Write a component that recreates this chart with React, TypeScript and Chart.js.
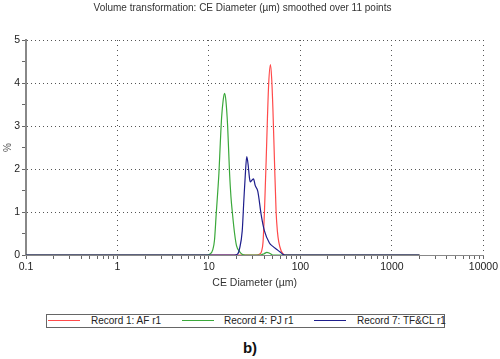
import React, { useEffect, useRef } from 'react';
import { Chart, registerables } from 'chart.js';

Chart.register(...registerables);

const TITLE = 'Volume transformation: CE Diameter (µm) smoothed over 11 points';
const X_TITLE = 'CE Diameter (µm)';
const Y_TITLE = '%';
const X_DECADES = [0.1, 1, 10, 100, 1000, 10000];
const Y_MIN = 0;
const Y_MAX = 5;
const Y_STEP = 0.5;

const SERIES_LABELS = ['Record 1: AF r1', 'Record 4: PJ r1', 'Record 7: TF&CL r1'];
const SERIES_COLORS = ['#ff4a4a', '#3aa83a', '#1e1e8c'];

const afSizes = [0.1, 1, 10, 33, 35.7, 37.5, 39, 40.4, 41.3, 42.2, 43.6, 45, 47, 48.5, 50, 52, 54.2, 56, 58, 61.5, 64, 67, 100, 1000, 2000];
const afValues = [0, 0, 0, 0, 0.02, 0.08, 0.3, 1.0, 1.6, 2.2, 3.2, 4.0, 4.43, 4.1, 3.4, 2.2, 1.0, 0.55, 0.3, 0.1, 0.04, 0, 0, 0, 0];

const pjSizes = [0.1, 1, 9.5, 10.2, 11, 11.5, 12.0, 12.5, 12.85, 13.3, 13.75, 14.3, 14.8, 15.3, 16.0, 16.8, 17.4, 18.0, 19.06, 20.0, 21.6, 23, 25, 36, 40, 43, 46, 50, 100, 1000, 2000];
const pjValues = [0, 0, 0, 0.02, 0.12, 0.35, 0.95, 1.5, 1.9, 2.6, 3.2, 3.6, 3.76, 3.6, 3.0, 1.9, 1.35, 1.0, 0.5, 0.22, 0.08, 0.02, 0, 0, 0.03, 0.06, 0.04, 0, 0, 0, 0];

const tfSizes = [0.1, 1, 10, 19, 20.5, 21.6, 23.1, 24.05, 25.1, 25.9, 26.8, 27.7, 28.3, 29.5, 30.7, 32, 34.2, 37.2, 40.4, 45.8, 50, 54.2, 60, 64, 68, 100, 1000, 2000];
const tfValues = [0, 0, 0, 0, 0.02, 0.15, 0.56, 1.26, 1.95, 2.29, 2.1, 1.8, 1.7, 1.74, 1.77, 1.62, 1.48, 0.94, 0.56, 0.28, 0.2, 0.14, 0.07, 0.02, 0, 0, 0, 0];

const FONT = '"Liberation Sans", Arial, sans-serif';

const isDecade = (v: number) => X_DECADES.some((d) => Math.abs(v - d) / d < 1e-6);

function App() {
  const ref = useRef<HTMLCanvasElement | null>(null);

  useEffect(() => {
    if (!ref.current) return;
    const toPts = (xs: number[], ys: number[]) => xs.map((x, i) => ({ x, y: ys[i] }));
    const sets = [
      toPts(afSizes, afValues),
      toPts(pjSizes, pjValues),
      toPts(tfSizes, tfValues),
    ];
    const chart = new Chart(ref.current, {
      type: 'line',
      data: {
        datasets: sets.map((d, i) => ({
          label: SERIES_LABELS[i],
          data: d,
          borderColor: SERIES_COLORS[i],
          backgroundColor: SERIES_COLORS[i],
          borderWidth: 1.2,
          pointRadius: 0,
          fill: false,
          cubicInterpolationMode: 'monotone' as const,
          order: 2 - i,
        })),
      },
      options: {
        responsive: false,
        animation: false,
        devicePixelRatio: 1,
        layout: { padding: { left: 0, right: 15, top: 0, bottom: 0 } },
        plugins: {
          legend: { display: false },
          tooltip: { enabled: false },
          title: {
            display: true,
            text: TITLE,
            color: '#333',
            font: { family: FONT, size: 10, weight: 'normal' },
            padding: { top: 2, bottom: 26 },
          },
        },
        scales: {
          x: {
            type: 'logarithmic',
            min: X_DECADES[0],
            max: X_DECADES[X_DECADES.length - 1],
            afterBuildTicks: (scale: any) => {
              const t: { value: number }[] = [];
              for (let i = 0; i < X_DECADES.length - 1; i++) {
                for (let k = 1; k <= 9; k++) t.push({ value: Number((k * X_DECADES[i]).toPrecision(6)) });
              }
              t.push({ value: X_DECADES[X_DECADES.length - 1] });
              scale.ticks = t;
            },
            afterFit: (scale: any) => {
              scale.height = 45;
            },
            ticks: {
              autoSkip: false,
              maxRotation: 0,
              padding: 2,
              color: '#222',
              font: { family: FONT, size: 10.5 },
              callback: (v: any) => (isDecade(Number(v)) ? String(Number(v)) : ''),
            },
            grid: {
              color: (ctx: any) => (ctx.tick && isDecade(ctx.tick.value) && ctx.tick.value > X_DECADES[0] ? '#555' : 'rgba(0,0,0,0)'),
              tickColor: '#666',
              tickLength: 4,
              lineWidth: 1,
            },
            border: { display: true, color: '#888', width: 1, dash: [1, 4] },
            title: {
              display: true,
              text: X_TITLE,
              color: '#333',
              font: { family: FONT, size: 10.5 },
              padding: { top: 2, bottom: 11 },
            },
          },
          y: {
            type: 'linear',
            min: Y_MIN,
            max: Y_MAX,
            afterFit: (scale: any) => {
              scale.width = 26;
            },
            ticks: {
              stepSize: Y_STEP,
              autoSkip: false,
              padding: 2,
              color: '#222',
              font: { family: FONT, size: 10.5 },
              callback: (v: any) => (Number.isInteger(Number(v)) ? String(v) : ''),
            },
            grid: {
              color: (ctx: any) => (ctx.tick && Number.isInteger(ctx.tick.value) && ctx.tick.value > 0 ? '#555' : 'rgba(0,0,0,0)'),
              tickColor: '#666',
              tickLength: 4,
              lineWidth: 1,
            },
            border: { display: true, color: '#888', width: 2, dash: [1, 3] },
            title: {
              display: true,
              text: Y_TITLE,
              color: '#555',
              font: { family: FONT, size: 10 },
              padding: { top: 2, bottom: 2 },
            },
          },
        },
      } as any,
    });
    return () => chart.destroy();
  }, []);

  const legendItems = [
    { line: 48, text: 91 },
    { line: 182, text: 224 },
    { line: 314, text: 357 },
  ];

  return (
    <div style={{ position: 'fixed', left: 0, top: 0, width: 500, height: 359, background: '#fff', fontFamily: FONT }}>
      <canvas ref={ref} width={500} height={300} style={{ position: 'absolute', left: 0, top: 0 }} />
      <div
        style={{
          position: 'absolute',
          left: 46,
          top: 314,
          width: 397,
          height: 12,
          border: '1px solid #666',
        }}
      />
      {legendItems.map((it, i) => (
        <React.Fragment key={i}>
          <div style={{ position: 'absolute', left: it.line, top: 320, width: 32, height: 1, background: SERIES_COLORS[i] }} />
          <div style={{ position: 'absolute', left: it.text, top: 314, fontSize: 10, lineHeight: '14px', color: '#222', whiteSpace: 'nowrap' }}>
            {SERIES_LABELS[i]}
          </div>
        </React.Fragment>
      ))}
      <div style={{ position: 'absolute', left: 0, top: 340, width: 500, textAlign: 'center', fontWeight: 'bold', fontSize: 15, lineHeight: '16px', color: '#111' }}>
        b)
      </div>
    </div>
  );
}

export default App;
